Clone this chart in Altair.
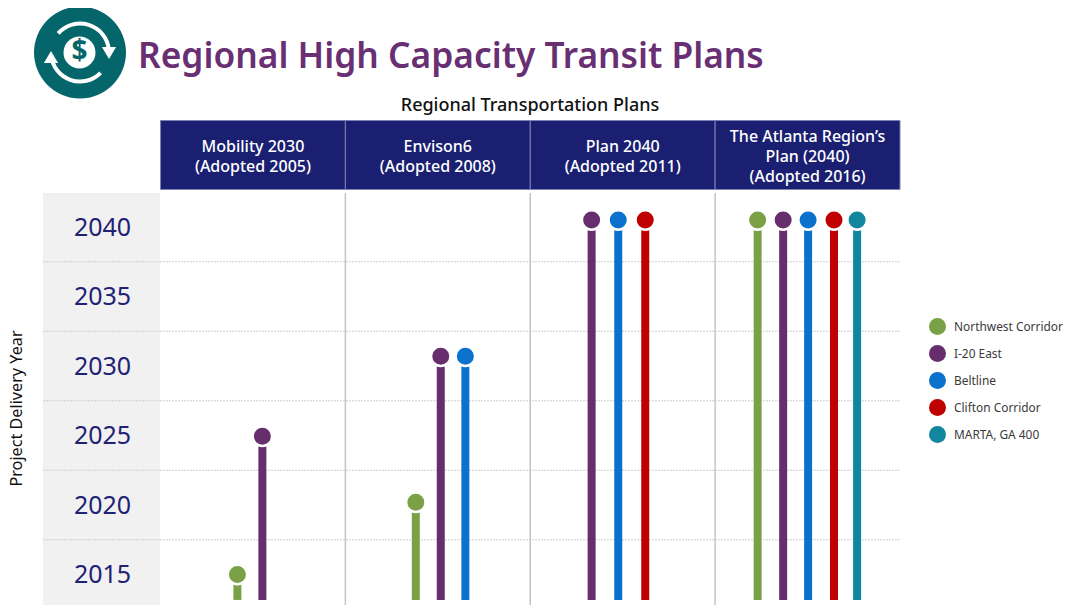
import altair as alt
import pandas as pd

FONT = "Noto Sans"

plans_two_line = ["Mobility 2030\n(Adopted 2005)", "Envison6\n(Adopted 2008)", "Plan 2040\n(Adopted 2011)"]
plans_three_line = ["The Atlanta Region\u2019s\nPlan (2040)\n(Adopted 2016)"]
plans = plans_two_line + plans_three_line
series_names = ["Northwest Corridor", "I-20 East", "Beltline", "Clifton Corridor", "MARTA, GA 400"]
series_colors = ["#7aa146", "#672e6e", "#0a72cc", "#c00000", "#12869f"]
year_ticks = [2015, 2020, 2025, 2030, 2035, 2040]
band_edges = [2017.5, 2022.5, 2027.5, 2032.5, 2037.5]

row_plan = [0, 0, 1, 1, 1, 2, 2, 2, 3, 3, 3, 3, 3]
row_lane = [0.416, 0.551, 0.381, 0.516, 0.649, 0.332, 0.476, 0.622, 0.230, 0.368, 0.503, 0.643, 0.768]
row_series = [
    "Northwest Corridor", "I-20 East",
    "Northwest Corridor", "I-20 East", "Beltline",
    "I-20 East", "Beltline", "Clifton Corridor",
    "Northwest Corridor", "I-20 East", "Beltline", "Clifton Corridor", "MARTA, GA 400",
]
row_year = [2015.0, 2024.95, 2020.2, 2030.7, 2030.7, 2040.5, 2040.5, 2040.5, 2040.5, 2040.5, 2040.5, 2040.5, 2040.5]
stem_floor = 2013.17

df = pd.DataFrame({"plan": row_plan, "lane": row_lane, "series": row_series, "year": row_year})
df["pos"] = df["plan"] + df["lane"]
df["floor"] = stem_floor
header = pd.DataFrame({"i": range(4), "j": range(1, 5), "mid": [k + 0.5 for k in range(4)], "label": plans})

x_scale = alt.Scale(domain=[0, 4], range=[152.5, 892])
y_scale = alt.Scale(domain=[2010, 2045], range=[636, 149.5])
color_scale = alt.Scale(domain=series_names, range=series_colors)
X = lambda f: alt.X(f, type="quantitative", scale=x_scale, axis=None)
Y = lambda f: alt.Y(f, type="quantitative", scale=y_scale)

band = alt.Chart(pd.DataFrame({"a": [2042.45], "b": [2012.0]})).mark_rect(color="#f1f1f1").encode(
    x=alt.value(35), x2=alt.value(152),
    y=alt.Y("a:Q", scale=y_scale, title="Project Delivery Year",
            axis=alt.Axis(values=year_ticks, format="d", offset=-94, domain=False, ticks=False, grid=False, zindex=1,
                          labelAlign="center", labelPadding=0, labelFont=FONT, labelFontSize=25,
                          labelColor="#1f2275", labelBaseline="middle",
                          titleFont=FONT, titleFontSize=16.2, titleFontWeight="normal", titleColor="#111111",
                          titleX=-78, titleY=400, titleAngle=270, titleAlign="center")),
    y2="b:Q",
)
grid = alt.Chart(pd.DataFrame({"y": band_edges})).mark_rule(color="#cfcfcf", strokeDash=[2, 1], strokeWidth=1).encode(
    y=Y("y"), x=alt.value(35), x2=alt.value(892)
)
seps = alt.Chart(pd.DataFrame({"x": [1, 2, 3]})).mark_rule(color="#c4c4c4", strokeWidth=1.5).encode(
    x=X("x"), y=alt.value(185), y2=alt.value(600)
)
head_rect = alt.Chart(header).mark_rect(fill="#1a1f71", stroke="#7f80b4", strokeWidth=1).encode(
    x=X("i"), x2="j:Q", y=alt.value(112.5), y2=alt.value(181.5)
)
head_kw = dict(font=FONT, fontSize=16, color="white", lineBreak="\n", lineHeight=20.3, fontWeight=500)
head_text2 = alt.Chart(header[header["label"].isin(plans_two_line)]).mark_text(**head_kw).encode(
    x=X("mid"), y=alt.value(138.8), text="label:N"
)
head_text3 = alt.Chart(header[header["label"].isin(plans_three_line)]).mark_text(**head_kw).encode(
    x=X("mid"), y=alt.value(128.5), text="label:N"
)
stems = alt.layer(*[
    alt.Chart(df[df["series"] == name]).mark_rule(strokeWidth=8, color=col).encode(
        x=X("pos"), y=Y("year"), y2="floor:Q"
    )
    for name, col in zip(series_names, series_colors)
])
dots = alt.Chart(df).mark_point(filled=True, size=380, stroke="white", strokeWidth=2.5, opacity=1).encode(
    x=X("pos"), y=Y("year"),
    color=alt.Color("series:N", scale=color_scale, legend=alt.Legend(
        orient="none", legendX=921, legendY=310, title=None, symbolType="circle", symbolSize=289,
        symbolStrokeWidth=0, labelFont=FONT, labelFontSize=11.9, labelColor="#3a3a3a", rowPadding=10,
        labelOffset=8)),
)


def caption(text, x, y, size, color, weight=400, align="center"):
    return alt.Chart(pd.DataFrame({"t": [text]})).mark_text(
        font=FONT, fontSize=size, color=color, fontWeight=weight, align=align, baseline="middle"
    ).encode(x=alt.value(x), y=alt.value(y), text="t:N")


title = caption("Regional High Capacity Transit Plans", 130, 48.5, 35.3, "#692f73", 600, "left")
subtitle = caption("Regional Transportation Plans", 522, 98, 18, "#111111", 500)


def spot(shape, x, y, size, color):
    return alt.Chart(pd.DataFrame({"k": [1]})).mark_point(
        shape=shape, filled=True, size=size, color=color, opacity=1
    ).encode(x=alt.value(x), y=alt.value(y))


def arc(t0, t1):
    return alt.Chart(pd.DataFrame({"k": [1]})).mark_arc(
        theta=t0, theta2=t1, radius=31, radius2=27, color="white"
    ).encode(x=alt.value(72), y=alt.value(44.5))


icon = alt.layer(
    spot("circle", 72, 44.5, 8464, "#04666a"),
    arc(5.43, 7.75),
    arc(2.35, 4.62),
    spot("triangle-down", 101, 45, 200, "white"),
    spot("triangle-up", 43, 49, 200, "white"),
    spot("circle", 71.5, 44.5, 1024, "white"),
    caption("$", 71.5, 44, 28, "#04666a", 700),
)

chart = alt.layer(band, grid, seps, head_rect, head_text2, head_text3, stems, dots, title, subtitle, icon).properties(
    width=1055, height=597, padding=0, autosize=alt.AutoSizeParams(type="none"), background="white"
).configure_view(stroke=None)

chart.save("out.html", embed_options={"renderer": "svg", "actions": False})
